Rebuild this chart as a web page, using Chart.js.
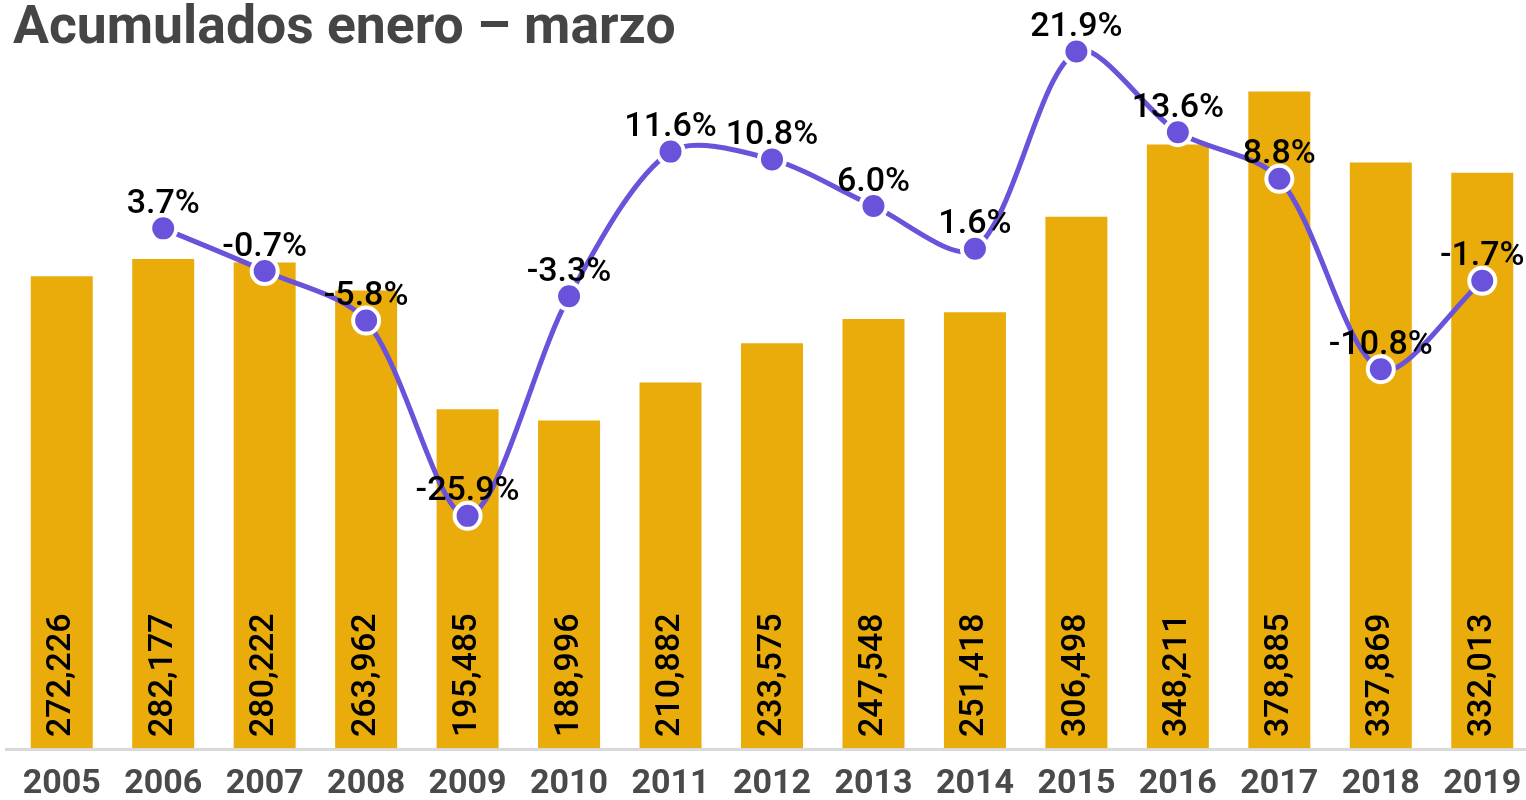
<!DOCTYPE html>
<html>
<head>
<meta charset="utf-8">
<script src="https://cdn.jsdelivr.net/npm/chart.js@4"></script>
<style>
  html, body { margin: 0; padding: 0; background: #fff; overflow: hidden; }
  #wrap { position: relative; width: 1540px; height: 800px; }
  #title { position: absolute; left: 13px; top: -2px; margin: 0; font: bold 53.5px/1 Roboto, sans-serif; color: #454545; white-space: nowrap; }
  canvas { position: absolute; left: 0; top: 0; }
</style>
</head>
<body>
<div id="wrap">
  <canvas id="chart" width="1540" height="800"></canvas>
  <h1 id="title">Acumulados enero – marzo</h1>
</div>
<script>
// ── Data ─────────────────────────────────────────────
const years = ['2005','2006','2007','2008','2009','2010','2011','2012','2013','2014','2015','2016','2017','2018','2019'];
const totals = [272226, 282177, 280222, 263962, 195485, 188996, 210882, 233575, 247548, 251418, 306498, 348211, 378885, 337869, 332013];
const growth = [null, 3.7, -0.7, -5.8, -25.9, -3.3, 11.6, 10.8, 6.0, 1.6, 21.9, 13.6, 8.8, -10.8, -1.7];

const GOLD = '#EAAC0A';
const PURPLE = '#6A52DA';

// value labels + baseline
const labelsPlugin = {
  id: 'labels',
  beforeDatasetsDraw(chart) {
    const { ctx, chartArea } = chart;
    ctx.save();
    ctx.strokeStyle = '#d9d9d9';
    ctx.lineWidth = 3;
    ctx.beginPath();
    ctx.moveTo(5, chartArea.bottom + 1.5);
    ctx.lineTo(1526, chartArea.bottom + 1.5);
    ctx.stroke();
    ctx.restore();
  },
  afterDatasetsDraw(chart) {
    const { ctx } = chart;
    ctx.save();
    ctx.fillStyle = '#000';
    ctx.font = '500 34px Roboto';
    ctx.textAlign = 'left';
    ctx.textBaseline = 'middle';
    chart.getDatasetMeta(0).data.forEach((bar, i) => {
      ctx.save();
      ctx.translate(bar.x, bar.base - 11);
      ctx.rotate(-Math.PI / 2);
      ctx.fillText(totals[i].toLocaleString('en-US'), 0, 0);
      ctx.restore();
    });
    ctx.font = '500 34px Roboto';
    ctx.textAlign = 'center';
    chart.getDatasetMeta(1).data.forEach((pt, i) => {
      if (growth[i] === null) return;
      ctx.fillText(growth[i].toFixed(1) + '%', pt.x, pt.y - 24);
    });
    ctx.restore();
  }
};

new Chart(document.getElementById('chart'), {
  type: 'bar',
  data: {
    labels: years,
    datasets: [
      { type: 'bar', data: totals, backgroundColor: GOLD, yAxisID: 'y', order: 2,
        categoryPercentage: 1, barPercentage: 0.611 },
      { type: 'line', data: growth, yAxisID: 'y1', order: 1, borderColor: PURPLE, borderWidth: 5,
        tension: 0.3, clip: false,
        pointRadius: 13, pointBackgroundColor: PURPLE, pointBorderColor: '#fff', pointBorderWidth: 4 }
    ]
  },
  options: {
    responsive: false,
    animation: false,
    layout: { autoPadding: false, padding: { top: 20, left: 11, right: 7, bottom: 0 } },
    plugins: { legend: { display: false }, tooltip: { enabled: false }, title: { display: false } },
    scales: {
      x: {
        grid: { display: false },
        border: { display: false },
        ticks: { color: '#4a4a4a', font: { family: 'Roboto', size: 34, weight: 'bold' }, padding: 8, maxRotation: 0 },
        afterFit: s => { s.height = 52; s.paddingLeft = 0; s.paddingRight = 0; }
      },
      y: { display: false, min: 0, max: 420100 },
      y1: { display: false, min: -49.8, max: 25.15 }
    }
  },
  plugins: [labelsPlugin]
});
</script>
</body>
</html>
